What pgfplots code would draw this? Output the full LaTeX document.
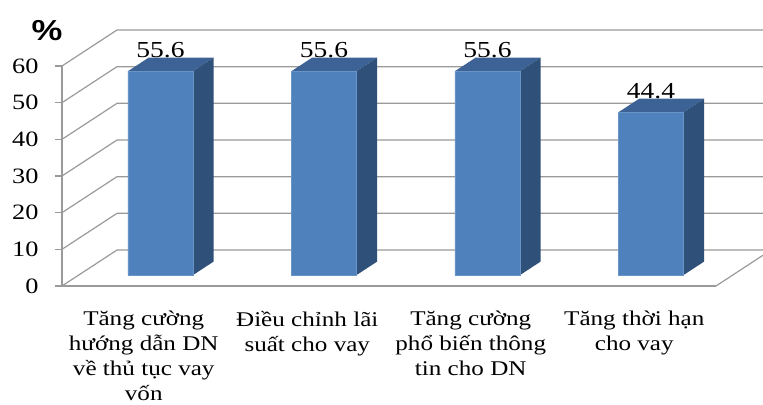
\documentclass[border=0pt]{standalone}
\usepackage{fontspec}
\setmainfont{Liberation Serif}[FakeStretch=1.2]
\newfontfamily\pctfont{Liberation Sans}[FakeStretch=1.2]
\usepackage{pgfplots}
\pgfplotsset{compat=1.18}
\usepackage{pgfplotstable}

\definecolor{barfront}{HTML}{4F81BD}
\definecolor{bartop}{HTML}{3D6396}
\definecolor{barside}{HTML}{2F5079}
\definecolor{wallline}{HTML}{9A9A9A}

\pgfplotstableread{
x y
0 55.6
1 55.6
2 55.6
3 44.4
}\datatable

% 3-D geometry in axis units (the axis plane is the front face of the bars)
\def\bw{0.199}                 % half bar width
\def\dX{0.1262}\def\dY{3.68}   % depth of a bar
\def\fX{-0.1026}\def\fY{-2.994}% front edge of the floor
\def\bX{0.2338}\def\bY{6.824}  % back wall

\begin{document}
\begin{tikzpicture}
\useasboundingbox (0,0) rectangle (763bp,405bp);
\begin{axis}[
  at={(62bp,119bp)}, anchor=south west,
  x=163.5bp, y=3.6667bp,
  xmin=-0.6026, xmax=3.3974, ymin=-2.994, ymax=57.006,
  clip=false,
  axis x line*=bottom, axis y line*=left,
  axis line style={wallline, line width=1.2bp, -},
  tick style={wallline, line width=1.2bp},
  tick align=outside,
  major tick length=7bp,
  ytick={-2.994,7.006,...,57.006},
  yticklabels={0,10,20,30,40,50,60},
  xtick={-0.1026,0.8974,1.8974,2.8974},
  xticklabels={{Tăng cường\\hướng dẫn DN\\về thủ tục vay\\vốn},
               {Điều chỉnh lãi\\suất cho vay},
               {Tăng cường\\phổ biến thông\\tin cho DN},
               {Tăng thời hạn\\cho vay}},
  x tick style={draw=none},
  extra x ticks={-0.6026,0.3974,1.3974,2.3974,3.3974},
  extra x tick labels={},
  extra x tick style={tick style={wallline, line width=1.2bp}, major tick length=7bp},
  xticklabel style={align=center, anchor=north, inner sep=0pt, yshift=-18bp,
    font=\fontsize{21}{25}\selectfont},
  yticklabel style={anchor=east, xshift=-13bp, font=\fontsize{22}{26}\selectfont},
  /pgf/number format/assume math mode=true,
]
% side wall and back wall grid lines
\pgfplotsforeachungrouped \v in {0,10,...,60} {
  \pgfmathsetmacro\ya{\v+\fY}
  \pgfmathsetmacro\yb{\v+\bY}
  \pgfmathsetmacro\xa{-0.5+\fX}
  \pgfmathsetmacro\xb{-0.5+\bX}
  \pgfmathsetmacro\xc{3.5+\bX}
  \edef\temp{\noexpand\addplot[wallline, line width=1.2bp]
    coordinates {(\xa,\ya) (\xb,\yb) (\xc,\yb)};}
  \temp
}
% right edge of the floor
\pgfmathsetmacro\xa{3.5+\fX}
\pgfmathsetmacro\xb{3.5+\bX}
\edef\temp{\noexpand\addplot[wallline, line width=1.2bp]
  coordinates {(\xa,\fY) (\xb,\bY)};}
\temp

% top and side faces of the columns
\pgfplotsforeachungrouped \i in {0,1,2,3} {
  \pgfplotstablegetelem{\i}{y}\of\datatable
  \let\val\pgfplotsretval
  \pgfmathsetmacro\xl{\i-\bw}
  \pgfmathsetmacro\xr{\i+\bw}
  \pgfmathsetmacro\xlb{\i-\bw+\dX}
  \pgfmathsetmacro\xrb{\i+\bw+\dX}
  \pgfmathsetmacro\yt{\val+\dY}
  \edef\temp{\noexpand\addplot[fill=bartop, draw=none]
    coordinates {(\xl,\val) (\xr,\val) (\xrb,\yt) (\xlb,\yt)};
    \noexpand\addplot[fill=barside, draw=none]
    coordinates {(\xr,0) (\xrb,\dY) (\xrb,\yt) (\xr,\val)};}
  \temp
}

% front faces of the columns with their values
\addplot[ybar, bar width=0.398, fill=barfront, draw=barfront!85!white, line width=0.6bp,
  nodes near coords,
  every node near coord/.append style={anchor=base, yshift=13.5bp,
    font=\fontsize{23}{26}\selectfont}]
  table[x=x, y=y] {\datatable};

\node[font=\pctfont\bfseries\fontsize{29}{29}\selectfont] at (axis cs:-0.694,66.6) {\%};
\end{axis}
\end{tikzpicture}
\end{document}
